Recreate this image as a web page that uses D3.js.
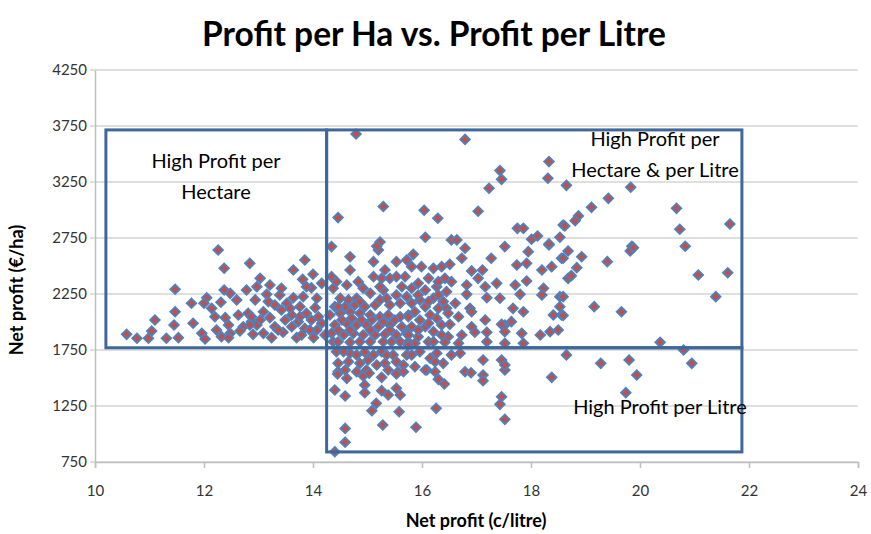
<!DOCTYPE html>
<html>
<head>
<meta charset="utf-8">
<script src="https://cdn.jsdelivr.net/npm/d3@7"></script>
<style>
  html, body { margin: 0; padding: 0; background: #fff; }
  svg { display: block; }
  .tick text { font-family: Lato, "Open Sans", sans-serif; font-size: 15px; fill: #333; }
</style>
</head>
<body>
<div id="chart"></div>
<script>
// Net profit per litre (c/litre) and per hectare (€/ha), one pair per vineyard
const profitPerLitre = [
  12.26, 12.37, 12.84, 11.47, 12.37, 12.48, 12.78, 12.05, 11.77, 12.0, 12.31, 12.6, 12.14, 11.47, 12.2, 12.63, 12.81, 11.1, 11.8, 12.39,
  11.45, 12.45, 12.72, 12.87, 11.04, 11.96, 12.23, 12.48, 12.66, 10.58, 10.77, 10.98, 11.31, 11.53, 12.02, 12.32, 12.45,
  13.85, 13.64, 14.0, 13.03, 13.81, 14.16, 12.97, 13.97, 13.15, 13.39, 13.64, 13.82, 14.07, 12.94, 13.52, 13.3, 13.76, 14.04, 13.09, 13.42,
  13.61, 13.88, 12.87, 13.21, 13.49, 13.73, 13.97, 14.16, 12.97, 13.3, 13.61, 13.85, 14.07, 13.09, 12.9, 13.7, 14.01, 13.24, 13.45, 14.22,
  13.21, 13.42, 13.88, 13.58, 13.76, 13.03, 13.36, 13.94, 13.79, 14.1, 13.18, 12.84,
  14.34, 14.68, 15.2, 15.11, 15.32, 14.68, 15.53, 15.72, 14.34, 15.11, 15.26, 15.41, 15.53, 15.69, 14.83, 14.37, 14.92, 15.05, 15.29, 15.53,
  15.72, 14.5, 14.65, 14.8, 14.4, 14.59, 14.77, 14.95, 15.14, 15.41, 15.6, 14.31, 14.5, 14.68, 14.86, 15.05, 15.23, 15.38, 15.6, 15.75,
  14.4, 14.62, 14.8, 14.98, 15.2, 15.41, 15.63, 14.34, 14.56, 14.74, 14.92, 15.14, 15.32, 15.53, 15.72, 14.37, 14.68, 14.86, 15.29, 15.6,
  14.46, 14.53, 14.71, 14.89, 15.08, 15.29, 15.5, 14.46, 14.68, 15.05, 15.41, 14.86, 15.23, 15.35, 14.62, 14.43, 15.23, 15.63,
  14.46, 15.05, 15.44, 15.75,
  14.43, 14.68, 14.95, 15.26, 15.47, 14.46, 14.65, 15.01, 15.17, 15.66, 14.46, 14.8, 15.38,
  14.56, 14.8, 15.11, 15.35, 15.72, 14.86, 15.32, 15.53, 14.59, 14.98, 15.56,
  14.45, 14.62, 14.92, 15.03, 15.26, 15.53, 15.66, 14.4, 14.59, 14.95, 14.95, 15.26, 15.38, 15.53, 15.6, 15.16, 15.08, 15.58, 15.28, 14.59, 14.59, 14.4,
  16.09, 16.24, 16.3, 16.41, 16.79, 16.9, 17.12, 17.12, 17.52, 18.38, 17.46, 17.43, 17.52, 16.26, 15.89, 19.94, 19.74,
  15.84, 16.79, 16.73, 17.27, 17.52, 17.95, 18.33, 18.56, 15.81, 15.99, 16.21, 16.36, 16.51, 16.91, 17.11, 17.74, 17.92, 18.2, 18.38,
  16.42, 16.54, 17.03, 16.82, 17.16, 17.37, 17.71, 17.92, 18.23, 16.27, 16.06, 15.81, 16.45, 16.82, 17.19, 17.43, 17.8, 18.2, 18.53,
  15.96, 16.21, 16.39, 16.61, 15.81, 16.06, 16.3, 16.45, 16.88, 16.91, 17.67, 17.86, 18.41, 18.56, 15.87, 16.15, 16.67, 15.75, 15.96,
  16.36, 16.51, 17.16, 17.52, 15.81, 16.06, 16.91, 17.46, 17.64, 16.21, 16.73, 16.97, 17.19, 17.52, 17.83, 18.17, 18.35, 18.5, 15.75,
  15.93, 16.48, 15.87, 16.12, 16.42, 16.67, 17.19, 17.52, 17.86,
  15.93, 16.12, 16.3, 15.93, 16.3, 16.12, 16.48, 16.27, 16.12, 15.93, 16.36, 16.21, 15.75,
  15.81, 16.15, 16.39, 16.7, 17.12, 17.46, 17.52, 15.87, 16.06, 15.96, 16.27, 16.54, 16.24,
  16.79, 17.43, 17.46, 18.33, 18.31, 17.23, 18.65, 16.04, 16.29, 17.03, 17.75, 17.86, 18.59, 16.06, 16.54, 16.64, 18.01, 18.12, 18.33, 18.53,
  14.79, 14.46, 15.29, 15.23, 15.17,
  19.83, 19.42, 19.11, 18.87, 18.81, 18.62, 20.67, 20.73, 21.65, 19.85, 20.83,
  18.68, 18.59, 18.93, 18.84, 18.68, 18.74, 19.4, 19.82, 19.88, 21.07, 21.61, 18.59, 18.53, 18.59, 19.16, 19.66, 21.39,
  20.37, 20.8, 18.65, 19.28, 19.8, 20.95
];
const profitPerHa = [
  2643, 2480, 2524, 2292, 2286, 2256, 2286, 2217, 2167, 2167, 2176, 2197, 2122, 2092, 2047, 2063, 2078, 2018, 1989, 2039,
  1973, 1973, 1958, 2003, 1920, 1899, 1929, 1899, 1920, 1890, 1855, 1855, 1855, 1860, 1848, 1869, 1860,
  2554, 2464, 2426, 2390, 2381, 2345, 2315, 2306, 2247, 2241, 2217, 2226, 2212, 2197, 2167, 2152, 2137, 2128, 2092, 2107,
  2063, 2078, 2047, 2039, 2018, 2003, 2018, 1989, 1973, 1958, 1958, 1943, 1929, 1899, 1890, 1860, 1860, 1860, 1908, 1884,
  2330, 2301, 2315, 2122, 2047, 2018, 1929, 1929, 1884, 2047, 2182, 1973,
  2673, 2583, 2643, 2539, 2464, 2464, 2539, 2554, 2405, 2405, 2390, 2390, 2405, 2405, 2360, 2301, 2301, 2256, 2286, 2241,
  2226, 2212, 2197, 2212, 2137, 2137, 2152, 2137, 2152, 2152, 2167, 2063, 2078, 2092, 2078, 2063, 2047, 2063, 2047, 2063,
  1973, 1989, 1973, 1973, 1958, 1973, 1958, 1899, 1884, 1899, 1884, 1884, 1890, 1884, 1899, 1824, 1819, 1824, 1824, 1824,
  2137, 2018, 2033, 2018, 2018, 2003, 2018, 1929, 1929, 1929, 1929, 2182, 2197, 2212, 2330, 2360, 2315, 2315,
  1824, 1824, 1824, 1824,
  1735, 1721, 1730, 1735, 1706, 1631, 1646, 1661, 1616, 1616, 1556, 1556, 1571,
  1735, 1706, 1706, 1706, 1706, 1631, 1631, 1646, 1571, 1571, 1556,
  1536, 1497, 1518, 1542, 1506, 1536, 1556, 1393, 1339, 1438, 1369, 1387, 1348, 1408, 1348, 1274, 1208, 1199, 1080, 1050, 926, 842,
  1571, 1556, 1488, 1446, 1556, 1547, 1527, 1476, 1571, 1506, 1333, 1265, 1131, 1229, 1060, 1527, 1369,
  2604, 2658, 2569, 2569, 2673, 2628, 2688, 2569, 2494, 2494, 2479, 2494, 2515, 2456, 2464, 2509, 2524, 2464, 2494,
  2390, 2360, 2390, 2330, 2315, 2345, 2330, 2366, 2301, 2315, 2286, 2301, 2271, 2247, 2217, 2212, 2247, 2241, 2226,
  2197, 2212, 2182, 2167, 2167, 2137, 2122, 2122, 2122, 2092, 2122, 2092, 2063, 2063, 2092, 2063, 2047, 2047, 2018,
  1973, 1979, 2018, 1973, 1958, 1958, 1958, 1979, 2003, 1914, 1884, 1908, 1908, 1914, 1899, 1884, 1914, 1929, 1884,
  1869, 1869, 1810, 1824, 1819, 1810, 1824, 1810, 1810,
  2345, 2390, 2360, 2241, 2241, 2182, 2078, 2033, 1989, 1929, 1884, 1824, 1794,
  1706, 1676, 1631, 1721, 1661, 1661, 1616, 1601, 1571, 1735, 1721, 1706, 1646,
  3630, 3352, 3274, 3432, 3283, 3194, 3220, 2998, 2926, 2989, 2836, 2836, 2866, 2757, 2733, 2733, 2739, 2768, 2697, 2757,
  3679, 2932, 3031, 2714, 2676,
  3203, 3104, 3024, 2947, 2905, 2857, 3015, 2828, 2875, 2676, 2676,
  2634, 2569, 2583, 2485, 2390, 2414, 2539, 2634, 2664, 2420, 2440, 2226, 2137, 2058, 2137, 2092, 2226,
  1819, 1750, 1706, 1631, 1661, 1631
];

const xTicks = [10, 12, 14, 16, 18, 20, 22, 24];
const yTicks = [750, 1250, 1750, 2250, 2750, 3250, 3750, 4250];

// quadrant boxes drawn over the chart: [x0, x1, y0, y1] in data units
const regionNames = ["High Profit per Hectare", "High Profit per Hectare & per Litre", "High Profit per Litre"];
const regionBounds = [
  [10.2, 14.25, 1770, 3715],
  [14.25, 21.87, 1770, 3715],
  [14.25, 21.87, 840, 1770]
];

const width = 871, height = 534;
const margin = { left: 95, right: 13, top: 70, bottom: 72 };
const font = 'Lato, "Open Sans", sans-serif';

const svg = d3.select('#chart').append('svg')
  .attr('width', width)
  .attr('height', height);

const x = d3.scaleLinear().domain([10, 24]).range([margin.left, width - margin.right]);
const y = d3.scaleLinear().domain([750, 4250]).range([height - margin.bottom, margin.top]);

// gridlines
svg.append('g')
  .selectAll('line')
  .data(yTicks)
  .join('line')
  .attr('x1', x(10) - 5)
  .attr('x2', x(24))
  .attr('y1', (d) => y(d))
  .attr('y2', (d) => y(d))
  .attr('stroke', '#d4d4d4')
  .attr('stroke-width', 1.5);

const xAxis = svg.append('g')
  .attr('transform', `translate(0,${y(750)})`)
  .call(d3.axisBottom(x).tickValues(xTicks).tickSize(6).tickPadding(17).tickFormat(d3.format('d')));
xAxis.select('.domain').attr('stroke', '#bfbfbf').attr('stroke-width', 1.5);
xAxis.selectAll('.tick line').attr('stroke', '#bfbfbf').attr('stroke-width', 1.5);

const yAxis = svg.append('g')
  .attr('transform', `translate(${x(10)},0)`)
  .call(d3.axisLeft(y).tickValues(yTicks).tickSize(0).tickPadding(8).tickFormat(d3.format('d')));
yAxis.select('.domain').attr('stroke', '#bfbfbf').attr('stroke-width', 1.5);

// points
const diamond = d3.symbol().type(d3.symbolSquare).size(46);
svg.append('g')
  .selectAll('path')
  .data(profitPerLitre.map((v, i) => [v, profitPerHa[i]]))
  .join('path')
  .attr('d', diamond)
  .attr('transform', (d) => `translate(${x(d[0])},${y(d[1])}) rotate(45)`)
  .attr('fill', '#c0504d')
  .attr('stroke', '#4f81bd')
  .attr('stroke-width', 1.8);

// quadrant boxes
svg.append('g')
  .selectAll('rect')
  .data(regionBounds)
  .join('rect')
  .attr('x', (d) => x(d[0]))
  .attr('y', (d) => y(d[3]))
  .attr('width', (d) => x(d[1]) - x(d[0]))
  .attr('height', (d) => y(d[2]) - y(d[3]))
  .attr('fill', 'none')
  .attr('stroke', '#3e679c')
  .attr('stroke-width', 3);

const labels = [
  { lines: ['High Profit per', 'Hectare'], cx: 216, top: 168 },
  { lines: ['High Profit per', 'Hectare & per Litre'], cx: 655, top: 146 },
  { lines: ['High Profit per Litre'], cx: 660, top: 414 }
];
labels.forEach((l, i) => {
  const t = svg.append('text')
    .attr('class', 'region-label')
    .attr('data-region', regionNames[i])
    .attr('text-anchor', 'middle')
    .attr('font-family', font)
    .attr('font-size', 20)
    .attr('fill', '#000');
  l.lines.forEach((s, j) => {
    t.append('tspan').attr('x', l.cx).attr('y', l.top + j * 31).text(s);
  });
});

// titles
svg.append('text')
  .attr('x', 434)
  .attr('y', 46)
  .attr('text-anchor', 'middle')
  .attr('font-family', font)
  .attr('font-weight', 'bold')
  .attr('font-size', 33.5)
  .attr('fill', '#000')
  .text('Profit per Ha vs. Profit per Litre');

svg.append('text')
  .attr('x', 476)
  .attr('y', 527)
  .attr('text-anchor', 'middle')
  .attr('font-family', font)
  .attr('font-weight', 'bold')
  .attr('font-size', 18)
  .attr('fill', '#000')
  .text('Net profit (c/litre)');

svg.append('text')
  .attr('transform', 'translate(23,290) rotate(-90)')
  .attr('text-anchor', 'middle')
  .attr('font-family', font)
  .attr('font-weight', 'bold')
  .attr('font-size', 18)
  .attr('fill', '#000')
  .text('Net profit (€/ha)');
</script>
</body>
</html>
